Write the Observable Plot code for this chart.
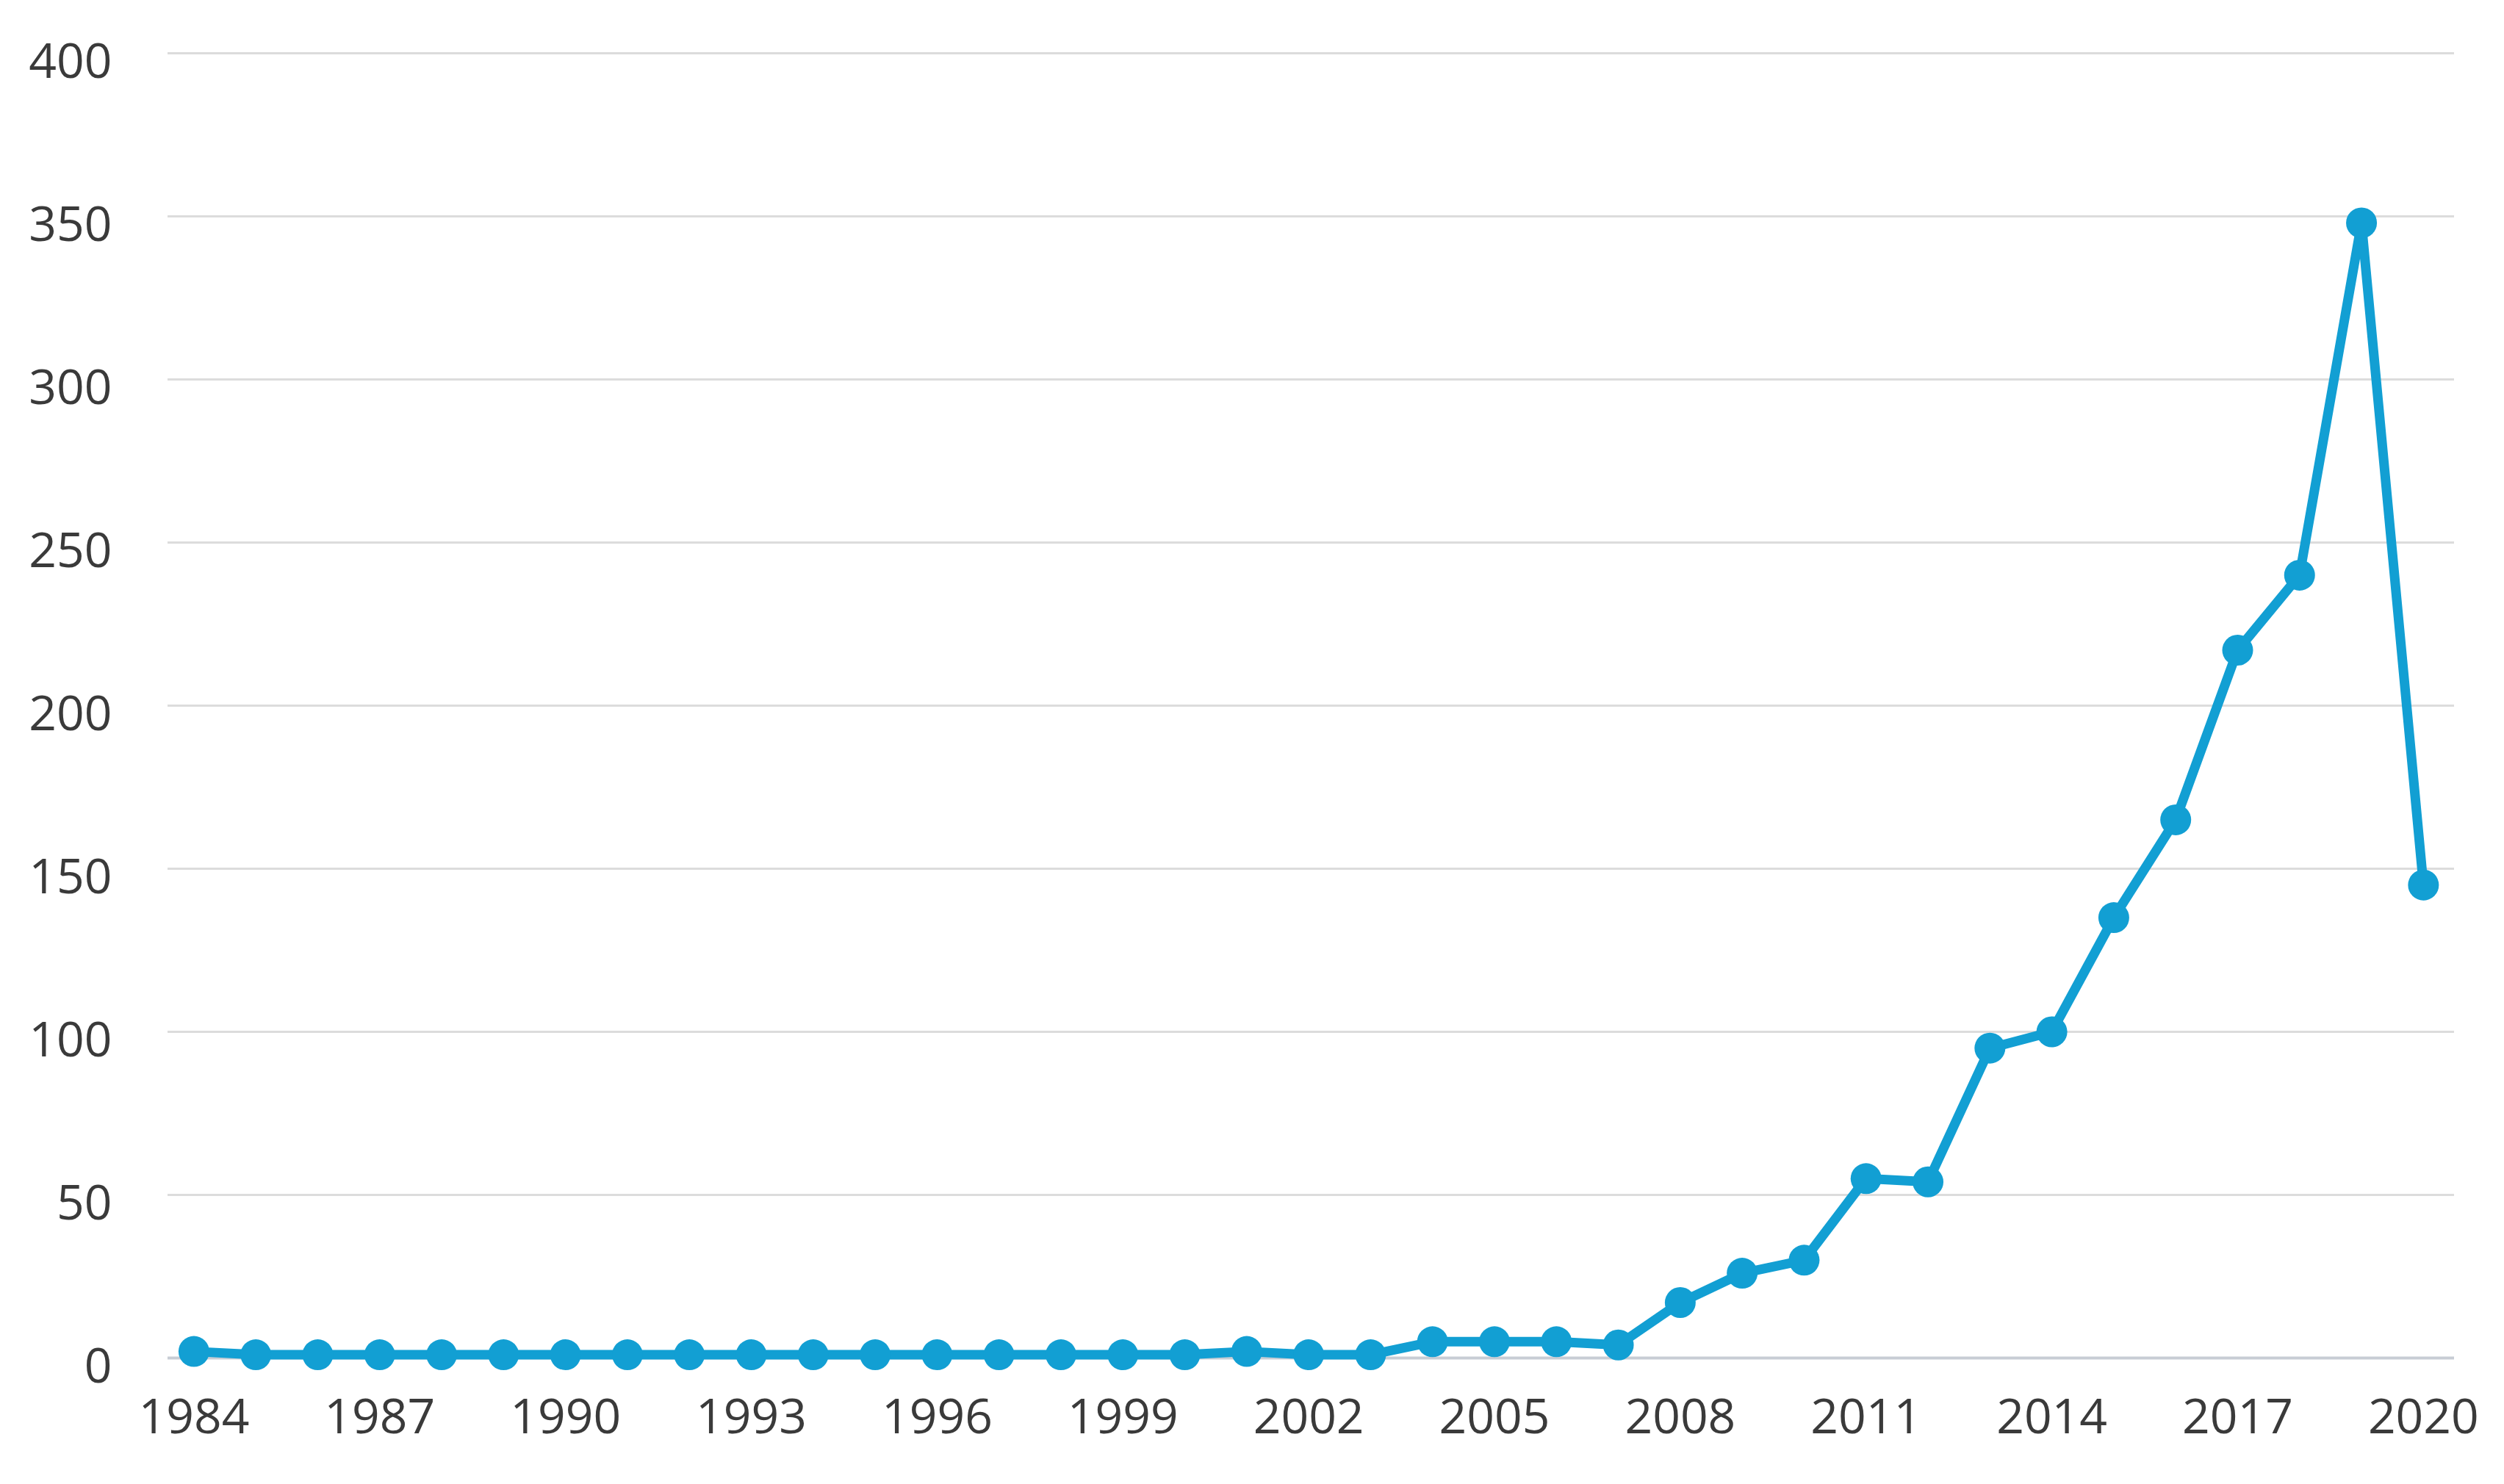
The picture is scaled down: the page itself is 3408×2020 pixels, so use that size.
<!DOCTYPE html>
<html>
<head>
<meta charset="utf-8">
<script src="https://cdn.jsdelivr.net/npm/d3@7"></script>
<script src="https://cdn.jsdelivr.net/npm/@observablehq/plot@0.6"></script>
<style>
  html, body { margin: 0; padding: 0; background: #ffffff; }
  #chart svg { display: block; }
</style>
</head>
<body>
<div id="chart"></div>
<script>
const years = [1984,1985,1986,1987,1988,1989,1990,1991,1992,1993,1994,1995,1996,1997,1998,1999,2000,2001,2002,2003,2004,2005,2006,2007,2008,2009,2010,2011,2012,2013,2014,2015,2016,2017,2018,2019,2020];
const counts = [2,1,1,1,1,1,1,1,1,1,1,1,1,1,1,1,1,2,1,1,5,5,5,4,17,26,30,55,54,95,100,135,165,217,240,348,145];
const xTicks = [1984,1987,1990,1993,1996,1999,2002,2005,2008,2011,2014,2017,2020];
const yTicks = [0,50,100,150,200,250,300,350,400];

const data = years.map((year, i) => ({year, value: counts[i]}));
const blue = "#129fd3";

const chart = Plot.plot({
  width: 3408,
  height: 2020,
  marginLeft: 228,
  marginRight: 68,
  marginTop: 72,
  marginBottom: 172,
  style: {fontFamily: "'Open Sans', 'Noto Sans', sans-serif", fontSize: "66px", color: "#3a3a3a", background: "#ffffff"},
  x: {domain: [1983.58, 2020.5]},
  y: {domain: [0, 400]},
  marks: [
    Plot.ruleY(yTicks.filter(d => d > 0), {stroke: "#dcdcdc", strokeWidth: 3}),
    Plot.ruleY([0], {stroke: "#c8cdd5", strokeWidth: 4}),
    Plot.axisX({ticks: xTicks, tickSize: 0, tickPadding: 56, tickFormat: d => String(d), label: null, fontSize: 66}),
    Plot.axisY({ticks: yTicks, tickSize: 0, tickPadding: 76, dy: 12, tickFormat: d => String(d), label: null, fontSize: 66}),
    Plot.line(data, {x: "year", y: "value", stroke: blue, strokeWidth: 13}),
    Plot.dot(data, {x: "year", y: "value", r: 21, fill: blue})
  ]
});
document.getElementById("chart").appendChild(chart);
</script>
</body>
</html>
